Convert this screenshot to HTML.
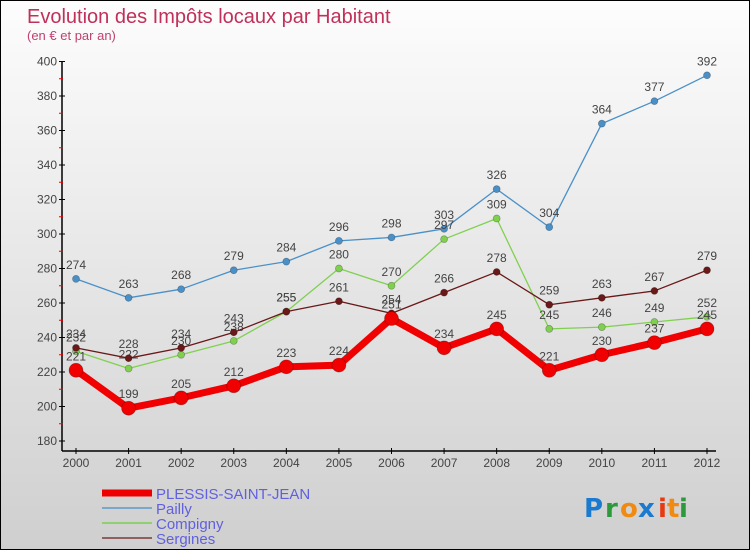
<!DOCTYPE html>
<html><head><meta charset="utf-8"><style>
body{margin:0;}
#wrap{position:relative;width:748px;height:548px;border:1px solid #000;background:linear-gradient(#fdfdfd,#cfcfcf);overflow:hidden;font-family:"Liberation Sans",sans-serif;}
svg{position:absolute;left:0;top:0;}
</style></head><body>
<div id="wrap">
<svg id="chart" width="750" height="550">
<text x="26" y="22" font-size="20" fill="#c0305a">Evolution des Impôts locaux par Habitant</text>
<text x="26" y="39" font-size="13" fill="#c04070">(en € et par an)</text>
<g id="axes"></g><g id="series"></g>
<g>
<line x1="101" y1="492" x2="151" y2="492" stroke="#e00" stroke-width="7"/>
<text x="155" y="498" font-size="15" fill="#6060e0">PLESSIS-SAINT-JEAN</text>
<line x1="101" y1="507" x2="151" y2="507" stroke="#7aa8c8" stroke-width="2"/>
<text x="155" y="513" font-size="15" fill="#6060e0">Pailly</text>
<line x1="101" y1="522" x2="151" y2="522" stroke="#90d070" stroke-width="2"/>
<text x="155" y="528" font-size="15" fill="#6060e0">Compigny</text>
<line x1="101" y1="537" x2="151" y2="537" stroke="#906060" stroke-width="2"/>
<text x="155" y="543" font-size="15" fill="#6060e0">Sergines</text>
</g>
<g font-size="26" font-family="'DejaVu Sans',sans-serif" font-weight="bold">
<text x="583" y="516" fill="#1a7ad0">P</text><text x="604" y="516" fill="#2a9a3a">r</text><text x="619" y="516" fill="#f08a10">o</text><text x="637" y="516" fill="#1a7ad0">x</text><text x="657" y="516" fill="#e83a10">i</text><text x="666" y="516" fill="#f08a10">t</text><text x="678" y="516" fill="#2a9a3a">i</text>
</g>
</svg></div>
<script>
const years=[2000,2001,2002,2003,2004,2005,2006,2007,2008,2009,2010,2011,2012];
const plessis=[221,199,205,212,223,224,251,234,245,221,230,237,245];
const pailly=[274,263,268,279,284,296,298,303,326,304,364,377,392];
const compigny=[232,222,230,238,255,280,270,297,309,245,246,249,252];
const sergines=[234,228,234,243,255,261,254,266,278,259,263,267,279];
const yTicks=[180,200,220,240,260,280,300,320,340,360,380,400];
const NS="http://www.w3.org/2000/svg";
const x=i=>75+i*(706-75)/(years.length-1);
const y=v=>440-(v-180)*(440-60.5)/220;
function mk(t,a,p){const e=document.createElementNS(NS,t);for(const k in a)e.setAttribute(k,a[k]);p.appendChild(e);return e;}
const ax=document.getElementById('axes');
const yl=mk('line',{x1:61,y1:60,x2:61,y2:450,stroke:'#000','stroke-width':1.5},ax);


const xl=mk('line',{x1:61,y1:450,x2:715,y2:450,stroke:'#000','stroke-width':1.5},ax);


yTicks.forEach(v=>{
 mk('line',{x1:58,y1:y(v),x2:64,y2:y(v),stroke:'#000'},ax);
 if(v<400)mk('line',{x1:58,y1:y(v+10),x2:62,y2:y(v+10),stroke:'#e00'},ax);
 const t=mk('text',{x:56,y:y(v)+4,'font-size':12,fill:'#444','text-anchor':'end'},ax);t.textContent=v;
 
 
});
years.forEach((yr,i)=>{
 mk('line',{x1:x(i),y1:447,x2:x(i),y2:453,stroke:'#000'},ax);
 const t=mk('text',{x:x(i),y:466,'font-size':12,fill:'#444','text-anchor':'middle'},ax);t.textContent=yr;
 
 
});
const sg=document.getElementById('series');
function series(data,name,color,w,r){
 const g=mk('g',{},sg);
 
 
 mk('polyline',{points:data.map((v,i)=>x(i)+','+y(v)).join(' '),fill:'none',stroke:color,'stroke-width':w,'stroke-linejoin':'round'},g);
 data.forEach((v,i)=>{
  const c=mk('circle',{cx:x(i),cy:y(v),r:r,fill:color,stroke:'rgba(0,0,0,0.3)','stroke-width':0.7},g);
  
  
  const t=mk('text',{x:x(i),y:y(v)-10,'font-size':12,fill:'#444','text-anchor':'middle'},g);t.textContent=v;
  
  
 });
}
series(pailly,'pailly','#4a90c8',1.3,3.5);
series(compigny,'compigny','#80d050',1.3,3.5);
series(sergines,'sergines','#6a1818',1.3,3.5);
series(plessis,'plessis','#f00000',7,7);
</script>
</body></html>
